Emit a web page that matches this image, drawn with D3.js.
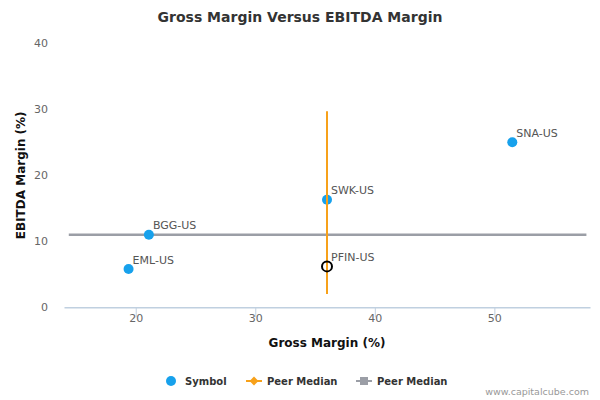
<!DOCTYPE html>
<html>
<head>
<meta charset="utf-8">
<script src="https://d3js.org/d3.v7.min.js"></script>
<style>
  body { margin: 0; background: #fff; }
  text { font-family: "DejaVu Sans", Verdana, sans-serif; }
</style>
</head>
<body>
<script type="text/javascript">

  // peers
  var symbols = ["EML-US", "BGG-US", "SWK-US", "SNA-US"];
  var grossMargin = [19.4, 21.1, 36.0, 51.5];
  var ebitdaMargin = [5.8, 11.0, 16.3, 25.0];

  // company itself
  var company = "PFIN-US";
  var companyGross = 36.0;
  var companyEbitda = 6.2;

  // peer medians (value + extent of the drawn line)
  var medianGross = 36.0;
  var medianGrossSpan = [2.0, 29.7];
  var medianEbitda = 11.0;
  var medianEbitdaSpan = [14.4, 57.7];

  var xTicks = [20, 30, 40, 50];
  var yTicks = [0, 10, 20, 30, 40];
  var legendLabels = ["Symbol", "Peer Median", "Peer Median"];

  var w = 600, h = 400;
  var blue = "#17a1ec", orange = "#f7a11a", grey = "#9b9ea6";

  var svg = d3.select("body").append("svg")
      .attr("width", w)
      .attr("height", h);

  var x = d3.scaleLinear().domain([14, 58]).range([64, 590]);
  var y = d3.scaleLinear().domain([0, 40]).range([307.3, 43.3]);

  // title
  svg.append("text")
      .attr("x", 300)
      .attr("y", 22)
      .attr("text-anchor", "middle")
      .style("font-size", "14px")
      .style("font-weight", "bold")
      .attr("fill", "#333")
      .text("Gross Margin Versus EBITDA Margin");

  // x axis
  var xAxis = svg.append("g")
      .attr("transform", "translate(0," + y(0) + ")")
      .call(d3.axisBottom(x).tickValues(xTicks).tickSize(10).tickSizeOuter(0)
        .tickPadding(4).tickFormat(d3.format("d")));
  xAxis.select(".domain").attr("stroke", "#c0d0e0").attr("stroke-width", 1.5);
  xAxis.selectAll(".tick line").attr("stroke", "#c0d0e0");
  xAxis.selectAll(".tick text")
      .attr("fill", "#666")
      .style("font-size", "11px")
      .attr("dy", "0.1em");

  // y axis, labels only
  var yAxis = svg.append("g")
      .attr("transform", "translate(52,0)")
      .call(d3.axisLeft(y).tickValues(yTicks).tickSize(0).tickPadding(4));
  yAxis.select(".domain").remove();
  yAxis.selectAll(".tick text")
      .attr("fill", "#666")
      .style("font-size", "11px");

  svg.append("text")
      .attr("x", 327)
      .attr("y", 347)
      .attr("text-anchor", "middle")
      .style("font-size", "12px")
      .style("font-weight", "bold")
      .attr("fill", "#111")
      .text("Gross Margin (%)");

  svg.append("text")
      .attr("transform", "translate(25," + (y(20)) + ") rotate(-90)")
      .attr("text-anchor", "middle")
      .style("font-size", "12px")
      .style("font-weight", "bold")
      .attr("fill", "#111")
      .text("EBITDA Margin (%)");

  // horizontal peer median (EBITDA)
  svg.append("line")
      .attr("x1", x(medianEbitdaSpan[0]))
      .attr("x2", x(medianEbitdaSpan[1]))
      .attr("y1", y(medianEbitda))
      .attr("y2", y(medianEbitda))
      .attr("stroke", grey)
      .attr("stroke-width", 2.5);

  // peers
  var peers = symbols.map(function(s, i) {
    return { name: s, gm: grossMargin[i], em: ebitdaMargin[i] };
  });

  svg.selectAll(".peer")
      .data(peers)
      .enter().append("circle")
      .attr("class", "peer")
      .attr("cx", function(d) { return x(d.gm); })
      .attr("cy", function(d) { return y(d.em); })
      .attr("r", 5)
      .attr("fill", blue);

  // vertical peer median (gross)
  svg.append("line")
      .attr("x1", x(medianGross))
      .attr("x2", x(medianGross))
      .attr("y1", y(medianGrossSpan[0]))
      .attr("y2", y(medianGrossSpan[1]))
      .attr("stroke", orange)
      .attr("stroke-width", 2);

  svg.append("circle")
      .attr("cx", x(companyGross))
      .attr("cy", y(companyEbitda))
      .attr("r", 5)
      .attr("fill", "none")
      .attr("stroke", "#000")
      .attr("stroke-width", 2);

  var labels = peers.concat([{ name: company, gm: companyGross, em: companyEbitda }]);
  svg.selectAll(".lbl")
      .data(labels)
      .enter().append("text")
      .attr("class", "lbl")
      .attr("x", function(d) { return x(d.gm) + 4; })
      .attr("y", function(d) { return y(d.em) - 5.5; })
      .style("font-size", "11px")
      .attr("fill", "#555")
      .text(function(d) { return d.name; });

  // legend
  var legendX = [171, 254, 364];
  var ly = 381;
  var lg = svg.append("g");

  lg.append("circle").attr("cx", legendX[0]).attr("cy", ly).attr("r", 5).attr("fill", blue);

  lg.append("line").attr("x1", legendX[1] - 8).attr("x2", legendX[1] + 8)
      .attr("y1", ly).attr("y2", ly).attr("stroke", orange).attr("stroke-width", 2);
  lg.append("path").attr("d", d3.symbol(d3.symbolDiamond2, 50)())
      .attr("transform", "translate(" + legendX[1] + "," + ly + ")").attr("fill", orange);

  lg.append("line").attr("x1", legendX[2] - 8).attr("x2", legendX[2] + 8)
      .attr("y1", ly).attr("y2", ly).attr("stroke", grey).attr("stroke-width", 2);
  lg.append("rect").attr("x", legendX[2] - 4).attr("y", ly - 4).attr("width", 8).attr("height", 8)
      .attr("fill", grey);

  lg.selectAll(".ltxt")
      .data(legendLabels)
      .enter().append("text")
      .attr("class", "ltxt")
      .attr("x", function(d, i) { return legendX[i] + (i === 0 ? 14 : 13); })
      .attr("y", ly + 3.5)
      .style("font-size", "10px")
      .style("font-weight", "bold")
      .attr("fill", "#333")
      .text(function(d) { return d; });

  svg.append("text")
      .attr("x", 589)
      .attr("y", 395)
      .attr("text-anchor", "end")
      .style("font-size", "9.5px")
      .attr("fill", "#999")
      .text("www.capitalcube.com");

</script>
</body>
</html>
